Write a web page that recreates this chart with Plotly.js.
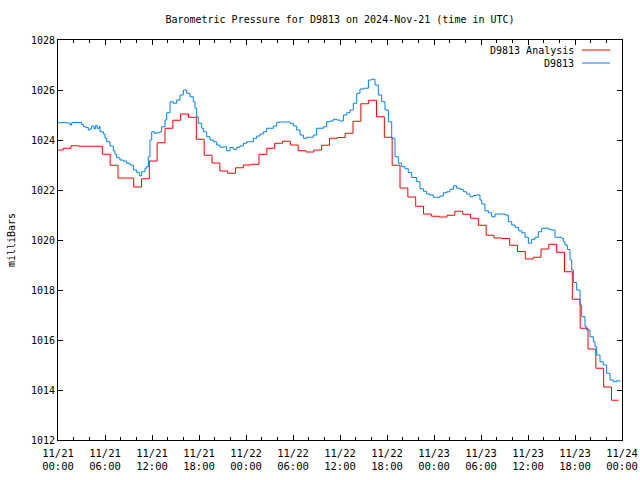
<!DOCTYPE html>
<html>
<head>
<meta charset="utf-8">
<script src="https://cdn.plot.ly/plotly-3.0.1.min.js"></script>
<style>html,body{margin:0;padding:0;background:#fff;}#chart{width:640px;height:480px;}</style>
</head>
<body>
<div id="chart"></div>
<script>
// Hourly analysis values (step series), each held for one hour
const analysisStartHour = -0.34;
const analysisValues = [
  1023.60, 1023.67, 1023.77, 1023.75, 1023.75, 1023.75, 1023.43, 1022.99, 1022.48, 1022.48,
  1022.12, 1022.45, 1023.16, 1023.89, 1024.47, 1024.79, 1025.04, 1024.91, 1024.03, 1023.39,
  1023.08, 1022.76, 1022.67, 1022.89, 1023.00, 1023.03, 1023.43, 1023.67, 1023.87, 1023.95,
  1023.80, 1023.57, 1023.52, 1023.60, 1023.79, 1024.07, 1024.10, 1024.27, 1024.75, 1025.45,
  1025.59, 1024.93, 1024.11, 1022.99, 1022.08, 1021.72, 1021.35, 1021.04, 1020.95, 1020.92,
  1020.99, 1021.15, 1021.03, 1020.87, 1020.59, 1020.19, 1020.08, 1020.06, 1019.79, 1019.54,
  1019.24, 1019.31, 1019.64, 1019.83, 1019.51, 1018.73, 1017.63, 1016.47, 1015.64, 1014.87,
  1014.12, 1013.59
];
const analysisEndHour = 71.55;

// Observed station pressure (hours since 2024-11-21 00:00 UTC)
const obsHours = [
  0.0, 0.5, 1.0, 1.53, 1.75, 2.5, 3.02, 3.23, 3.6, 3.87, 4.1, 4.3, 4.6, 4.8, 5.0, 5.28, 5.36, 5.79,
  6.0, 6.21, 6.64, 7.06, 7.28, 7.49, 7.91, 8.34, 8.77, 9.19, 9.62, 10.04, 10.38, 10.68, 11.11, 11.32,
  11.53, 11.74, 11.96, 12.3, 12.6, 13.02, 13.23, 13.66, 13.87, 14.3, 14.72, 15.15, 15.57, 16.0, 16.43,
  16.85, 17.27, 17.49, 17.7, 17.91, 18.34, 18.55, 18.98, 19.4, 19.83, 20.26, 20.68, 21.1, 21.53, 21.96,
  22.38, 22.81, 23.23, 23.66, 24.09, 24.51, 24.94, 25.36, 25.79, 26.21, 26.64, 27.06, 27.49, 27.91,
  28.34, 28.77, 29.19, 29.62, 30.04, 30.47, 30.89, 31.32, 31.74, 32.17, 32.6, 33.02, 33.45, 33.87,
  34.3, 34.72, 35.15, 35.57, 36.0, 36.43, 36.85, 37.28, 37.7, 38.13, 38.55, 38.98, 39.4, 39.62, 40.04,
  40.47, 40.89, 41.32, 41.74, 42.17, 42.6, 43.02, 43.45, 43.87, 44.3, 44.72, 45.15, 45.79, 46.21,
  46.64, 47.06, 47.49, 47.91, 48.34, 48.77, 49.19, 49.62, 50.04, 50.47, 50.89, 51.32, 51.74, 52.17,
  52.6, 53.02, 53.45, 53.87, 54.09, 54.51, 54.94, 55.36, 55.79, 56.43, 57.06, 57.49, 57.92, 58.34,
  58.77, 59.2, 59.62, 60.05, 60.47, 60.9, 61.32, 61.75, 62.17, 62.6, 63.02, 63.45, 63.87, 64.3,
  64.51, 64.72, 65.02, 65.36, 65.58, 65.79, 66.21, 66.64, 66.85, 67.28, 67.49, 67.91, 68.34, 68.55,
  68.77, 69.19, 69.62, 70.04, 70.47, 70.89, 71.32, 71.74
];
const obsValues = [
  1024.69, 1024.70, 1024.68, 1024.60, 1024.70, 1024.70, 1024.62, 1024.53, 1024.50, 1024.40, 1024.45, 1024.55, 1024.45, 1024.58, 1024.47, 1024.55, 1024.33, 1024.24,
  1024.07, 1023.93, 1023.76, 1023.57, 1023.43, 1023.29, 1023.20, 1023.16, 1023.07, 1023.00, 1022.80, 1022.71, 1022.57, 1022.73, 1022.87, 1022.93,
  1023.33, 1024.00, 1024.33, 1024.27, 1024.29, 1024.33, 1024.53, 1024.80, 1025.09, 1025.53, 1025.47, 1025.60, 1025.80, 1026.00, 1025.87,
  1025.73, 1025.53, 1025.27, 1024.93, 1024.67, 1024.47, 1024.33, 1024.13, 1024.00, 1023.93, 1023.80, 1023.71, 1023.73, 1023.57, 1023.70,
  1023.63, 1023.71, 1023.76, 1023.87, 1023.93, 1023.93, 1024.07, 1024.16, 1024.24, 1024.33, 1024.47, 1024.47, 1024.56, 1024.71,
  1024.72, 1024.72, 1024.72, 1024.67, 1024.56, 1024.40, 1024.20, 1024.07, 1024.11, 1024.11, 1024.20, 1024.47, 1024.47, 1024.53,
  1024.73, 1024.76, 1024.83, 1024.80, 1024.76, 1025.00, 1025.09, 1025.20, 1025.47, 1025.87, 1026.04, 1026.07, 1026.07, 1026.40, 1026.43,
  1026.20, 1025.80, 1025.53, 1025.20, 1024.73, 1024.07, 1023.33, 1023.07, 1022.93, 1022.85, 1022.70, 1022.50, 1022.33, 1022.05,
  1021.95, 1021.84, 1021.80, 1021.71, 1021.71, 1021.76, 1021.89, 1021.93, 1022.03, 1022.17, 1022.07, 1022.03, 1021.93, 1021.84,
  1021.73, 1021.78, 1021.80, 1021.60, 1021.44, 1021.17, 1021.09, 1020.93, 1021.04, 1021.04, 1021.00, 1020.73, 1020.60, 1020.51,
  1020.37, 1020.29, 1020.11, 1019.87, 1020.03, 1020.11, 1020.33, 1020.47, 1020.48, 1020.43, 1020.40, 1020.11, 1020.11, 1020.07,
  1019.93, 1019.80, 1019.62, 1019.20, 1018.80, 1018.30, 1018.00, 1017.40, 1016.93, 1016.53, 1016.40, 1016.13, 1015.93, 1015.73,
  1015.40, 1015.13, 1015.00, 1014.67, 1014.40, 1014.33, 1014.37, 1014.33
];

const tickHours = [0, 6, 12, 18, 24, 30, 36, 42, 48, 54, 60, 66, 72];
const tickLabels = [
  '11/21<br>00:00', '11/21<br>06:00', '11/21<br>12:00', '11/21<br>18:00',
  '11/22<br>00:00', '11/22<br>06:00', '11/22<br>12:00', '11/22<br>18:00',
  '11/23<br>00:00', '11/23<br>06:00', '11/23<br>12:00', '11/23<br>18:00',
  '11/24<br>00:00'
];
const seriesNames = ['D9813 Analysis', 'D9813'];
const seriesColors = ['#ff0000', '#0080ff'];

const aX = analysisValues.map((v, i) => analysisStartHour + i);
aX.push(analysisEndHour);
const aY = analysisValues.slice();
aY.push(analysisValues[analysisValues.length - 1]);

const FONT = 'DejaVu Sans Mono, Liberation Mono, monospace';

const traces = [
  {x: aX, y: aY, type: 'scatter', mode: 'lines', name: seriesNames[0],
   line: {color: seriesColors[0], width: 1, shape: 'hv'}, showlegend: false},
  {x: obsHours, y: obsValues, type: 'scatter', mode: 'lines', name: seriesNames[1],
   line: {color: seriesColors[1], width: 1, shape: 'hv'}, showlegend: false}
];

// legend drawn gnuplot-style (text right, sample line at right)
const legX0 = 0.929, legX1 = 0.979, legTextX = 0.918;
const legY = [0.975, 0.9425];
const annotations = seriesNames.map((n, i) => ({
  xref: 'paper', yref: 'paper', x: legTextX, y: legY[i], xanchor: 'right', yanchor: 'middle',
  text: n, showarrow: false, font: {family: FONT, size: 10, color: '#000'}
}));
const shapes = seriesNames.map((n, i) => ({
  type: 'line', xref: 'paper', yref: 'paper', x0: legX0, x1: legX1, y0: legY[i], y1: legY[i],
  line: {color: seriesColors[i], width: 1}
}));

const layout = {
  width: 640, height: 480,
  margin: {l: 58, r: 18, t: 40, b: 40},
  paper_bgcolor: '#fff', plot_bgcolor: '#fff',
  font: {family: FONT, size: 10, color: '#000'},
  title: {text: 'Barometric Pressure for D9813 on 2024-Nov-21 (time in UTC)',
          font: {family: FONT, size: 10, color: '#000'},
          xref: 'paper', x: 0.5, xanchor: 'center', yref: 'container', y: 1 - 19/480, yanchor: 'middle'},
  xaxis: {
    range: [0, 72], tickmode: 'array', tickvals: tickHours, ticktext: tickLabels,
    ticks: 'inside', ticklen: 5, tickcolor: '#000', tickwidth: 1, ticklabelstandoff: 3,
    minor: {tickmode: 'linear', tick0: 0, dtick: 2, ticks: 'inside', ticklen: 3, tickcolor: '#000', showgrid: false},
    showline: true, linecolor: '#000', linewidth: 1, mirror: 'allticks',
    showgrid: false, zeroline: false, fixedrange: true,
    tickfont: {family: FONT, size: 10.5, color: '#000'}
  },
  yaxis: {
    range: [1012, 1028], tickmode: 'linear', tick0: 1012, dtick: 2,
    ticks: 'inside', ticklen: 5, tickcolor: '#000', tickwidth: 1,
    showline: true, linecolor: '#000', linewidth: 1, mirror: 'allticks',
    showgrid: false, zeroline: false, fixedrange: true,
    tickfont: {family: FONT, size: 10, color: '#000'},
    title: {text: 'milliBars', font: {family: FONT, size: 10, color: '#000'}, standoff: 13}
  },
  annotations: annotations,
  shapes: shapes,
  showlegend: false
};

Plotly.newPlot('chart', traces, layout, {staticPlot: true, displayModeBar: false});
</script>
</body>
</html>
